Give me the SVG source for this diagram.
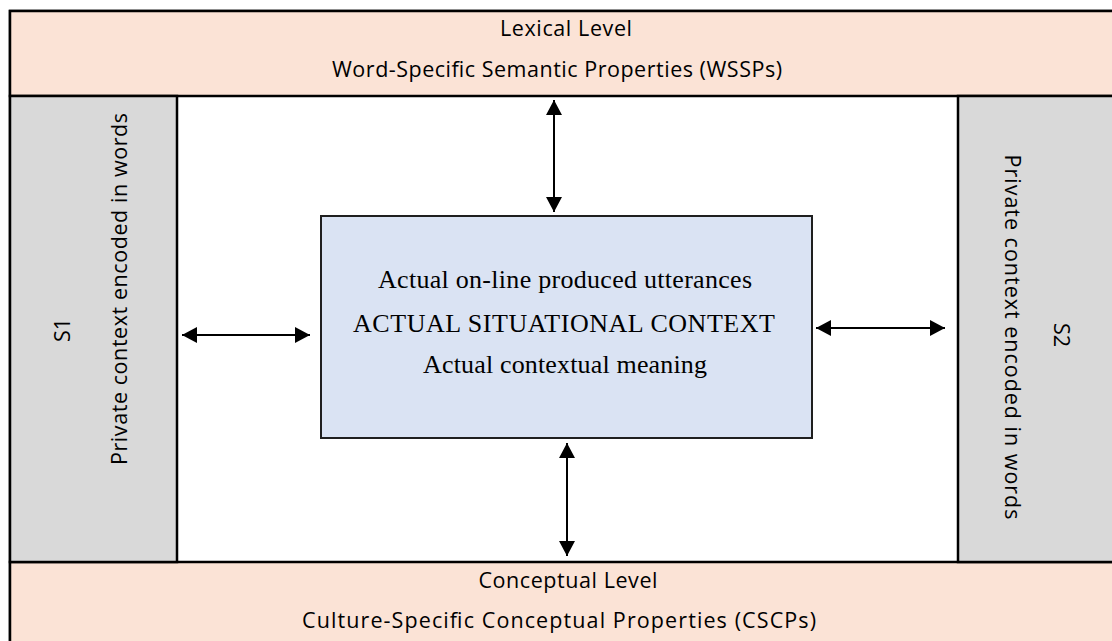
<svg xmlns="http://www.w3.org/2000/svg" width="1112" height="641" viewBox="0 0 1112 641">
  <style>
    .band { fill: #fbe3d6; stroke: #000; stroke-width: 2.5; }
    .side { fill: #d9d9d9; stroke: #000; stroke-width: 2.5; }
    .core { fill: #dae3f3; stroke: #1f1f1f; stroke-width: 2; }
    .sans { font-family: "Open Sans", "Liberation Sans", sans-serif; font-size: 21.5px; fill: #000; text-anchor: middle; }
    .serif { font-family: "Liberation Serif", "Times New Roman", serif; font-size: 26px; fill: #000; text-anchor: middle; }
    .link { stroke: #000; stroke-width: 2; fill: none; marker-start: url(#head); marker-end: url(#head); }
  </style>
  <defs>
    <marker id="head" viewBox="0 0 15 16" refX="15" refY="8" markerWidth="15" markerHeight="16" markerUnits="userSpaceOnUse" orient="auto-start-reverse">
      <path d="M0,0 L15,8 L0,16 Z" fill="#000"/>
    </marker>
  </defs>

  <rect x="0" y="0" width="1112" height="641" fill="#fff"/>

  <!-- open middle field -->
  <rect x="10" y="11" width="1110" height="640" fill="#fff" stroke="#000" stroke-width="2.5"/>

  <g id="lexical-level">
    <rect class="band" x="10" y="11" width="1110" height="85"/>
    <text class="sans" x="566" y="36" textLength="132">Lexical Level</text>
    <text class="sans" x="557" y="77" textLength="450">Word-Specific Semantic Properties (WSSPs)</text>
  </g>

  <g id="conceptual-level">
    <rect class="band" x="10" y="562" width="1110" height="90"/>
    <text class="sans" x="568" y="588" textLength="179">Conceptual Level</text>
    <text class="sans" x="559" y="628" textLength="514">Culture-Specific Conceptual Properties (CSCPs)</text>
  </g>

  <g id="speaker-s1">
    <rect class="side" x="10" y="96" width="167" height="466"/>
    <text class="sans" transform="translate(70,330) rotate(-90)" x="0" y="0">S1</text>
    <text class="sans" transform="translate(127,289) rotate(-90)" x="0" y="0" textLength="352">Private context encoded in words</text>
  </g>

  <g id="speaker-s2">
    <rect class="side" x="958" y="96" width="162" height="466"/>
    <text class="sans" transform="translate(1054,335) rotate(90)" x="0" y="0">S2</text>
    <text class="sans" transform="translate(1005,337) rotate(90)" x="0" y="0" textLength="365">Private context encoded in words</text>
  </g>

  <g id="situational-context">
    <rect class="core" x="321" y="216" width="491" height="222"/>
    <text class="serif" x="565" y="288" textLength="374">Actual on-line produced utterances</text>
    <text class="serif" x="564" y="332" textLength="422">ACTUAL SITUATIONAL CONTEXT</text>
    <text class="serif" x="565" y="373" textLength="284">Actual contextual meaning</text>
  </g>

  <g id="connectors">
    <line class="link" x1="554" y1="100" x2="554" y2="212"/>
    <line class="link" x1="567" y1="443" x2="567" y2="556"/>
    <line class="link" x1="182" y1="335" x2="310" y2="335"/>
    <line class="link" x1="816" y1="328" x2="945" y2="328"/>
  </g>
</svg>
